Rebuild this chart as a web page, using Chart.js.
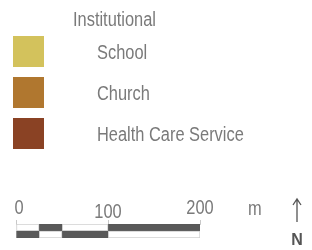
<!DOCTYPE html>
<html>
<head>
<meta charset="utf-8">
<script src="https://cdn.jsdelivr.net/npm/chart.js@4"></script>
<style>
  html, body { margin: 0; padding: 0; background: #fff; }
  #wrap { width: 312px; height: 250px; position: relative; }
</style>
</head>
<body>
<div id="wrap"><canvas id="mapLegend"></canvas></div>
<script>
// legend content
const legendTitle = "Institutional";
const categories = ["School", "Church", "Health Care Service"];
const categoryColors = ["#d3c25c", "#b0772f", "#8a4224"];

// scale bar
const scaleTicks = [0, 100, 200];
const scaleUnit = "m";
const barRows = ["upper", "lower"];
const segmentLengths = [25, 25, 50, 100];
const upperColors = ["#ffffff", "#595959", "#ffffff", "#595959"];
const lowerColors = ["#595959", "#ffffff", "#595959", "#ffffff"];
const northLabel = "N";

const FONT = "'Liberation Sans', Arial, sans-serif";
const TEXT_COLOR = "#7a7a7a";
const SQUEEZE = 0.82; // fake a condensed face

// draw text narrowed horizontally, anchored at x
function narrowText(ctx, text, x, y, align) {
    ctx.save();
    ctx.translate(x, y);
    ctx.scale(SQUEEZE, 1);
    ctx.textAlign = align || "left";
    ctx.fillText(text, 0, 0);
    ctx.restore();
}

const legendPlugin = {
    id: "mapLegend",
    afterDraw(chart) {
        const ctx = chart.ctx;
        ctx.save();
        ctx.fillStyle = TEXT_COLOR;
        ctx.font = "20px " + FONT;
        ctx.textBaseline = "alphabetic";
        narrowText(ctx, legendTitle, 73, 26);

        // swatches + labels
        categories.forEach((name, i) => {
            const top = 36 + i * 41;
            ctx.fillStyle = categoryColors[i];
            ctx.fillRect(13, top, 31, 31);
            ctx.fillStyle = TEXT_COLOR;
            narrowText(ctx, name, 97, top + 23);
        });

        // tick labels of the scale bar, placed by the x scale
        const xs = chart.scales.x;
        scaleTicks.forEach((v, i) => {
            const drop = i === 1 ? 4 : 0;
            narrowText(ctx, String(v), xs.getPixelForValue(v) + (i === 0 ? 3 : 0), 214 + drop, "center");
        });
        narrowText(ctx, scaleUnit, 248, 215);

        // north arrow
        ctx.strokeStyle = "#555";
        ctx.lineWidth = 1.3;
        ctx.beginPath();
        ctx.moveTo(297, 199);
        ctx.lineTo(297, 222);
        ctx.moveTo(293, 205);
        ctx.lineTo(297, 199);
        ctx.lineTo(301, 205);
        ctx.stroke();
        ctx.fillStyle = "#555";
        ctx.font = "bold 16px " + FONT;
        ctx.textAlign = "center";
        ctx.fillText(northLabel, 297, 245);
        ctx.restore();
    }
};

const datasets = segmentLengths.map((len, i) => ({
    data: barRows.map(() => len),
    backgroundColor: [upperColors[i], lowerColors[i]],
    borderColor: [upperColors[i] === "#ffffff" ? "#d0d0d0" : upperColors[i],
                  lowerColors[i] === "#ffffff" ? "#d0d0d0" : lowerColors[i]],
    borderWidth: 1,
    borderSkipped: false,
    barPercentage: 1,
    categoryPercentage: 1
}));

new Chart(document.getElementById("mapLegend").getContext("2d"), {
    type: "bar",
    data: { labels: barRows, datasets: datasets },
    options: {
        indexAxis: "y",
        responsive: true,
        maintainAspectRatio: false,
        animation: false,
        layout: { padding: { left: 16, right: 112, top: 220, bottom: 12 } },
        plugins: {
            legend: { display: false },
            tooltip: { enabled: false }
        },
        scales: {
            x: {
                position: "top",
                stacked: true,
                min: scaleTicks[0],
                max: scaleTicks[scaleTicks.length - 1],
                afterBuildTicks: axis => { axis.ticks = scaleTicks.map(v => ({ value: v })); },
                ticks: { display: false },
                grid: { drawOnChartArea: false, drawTicks: true, tickLength: 4, color: "#c8c8c8" },
                border: { color: "#d0d0d0" }
            },
            y: { display: false, stacked: true }
        }
    },
    plugins: [legendPlugin]
});
</script>
</body>
</html>
